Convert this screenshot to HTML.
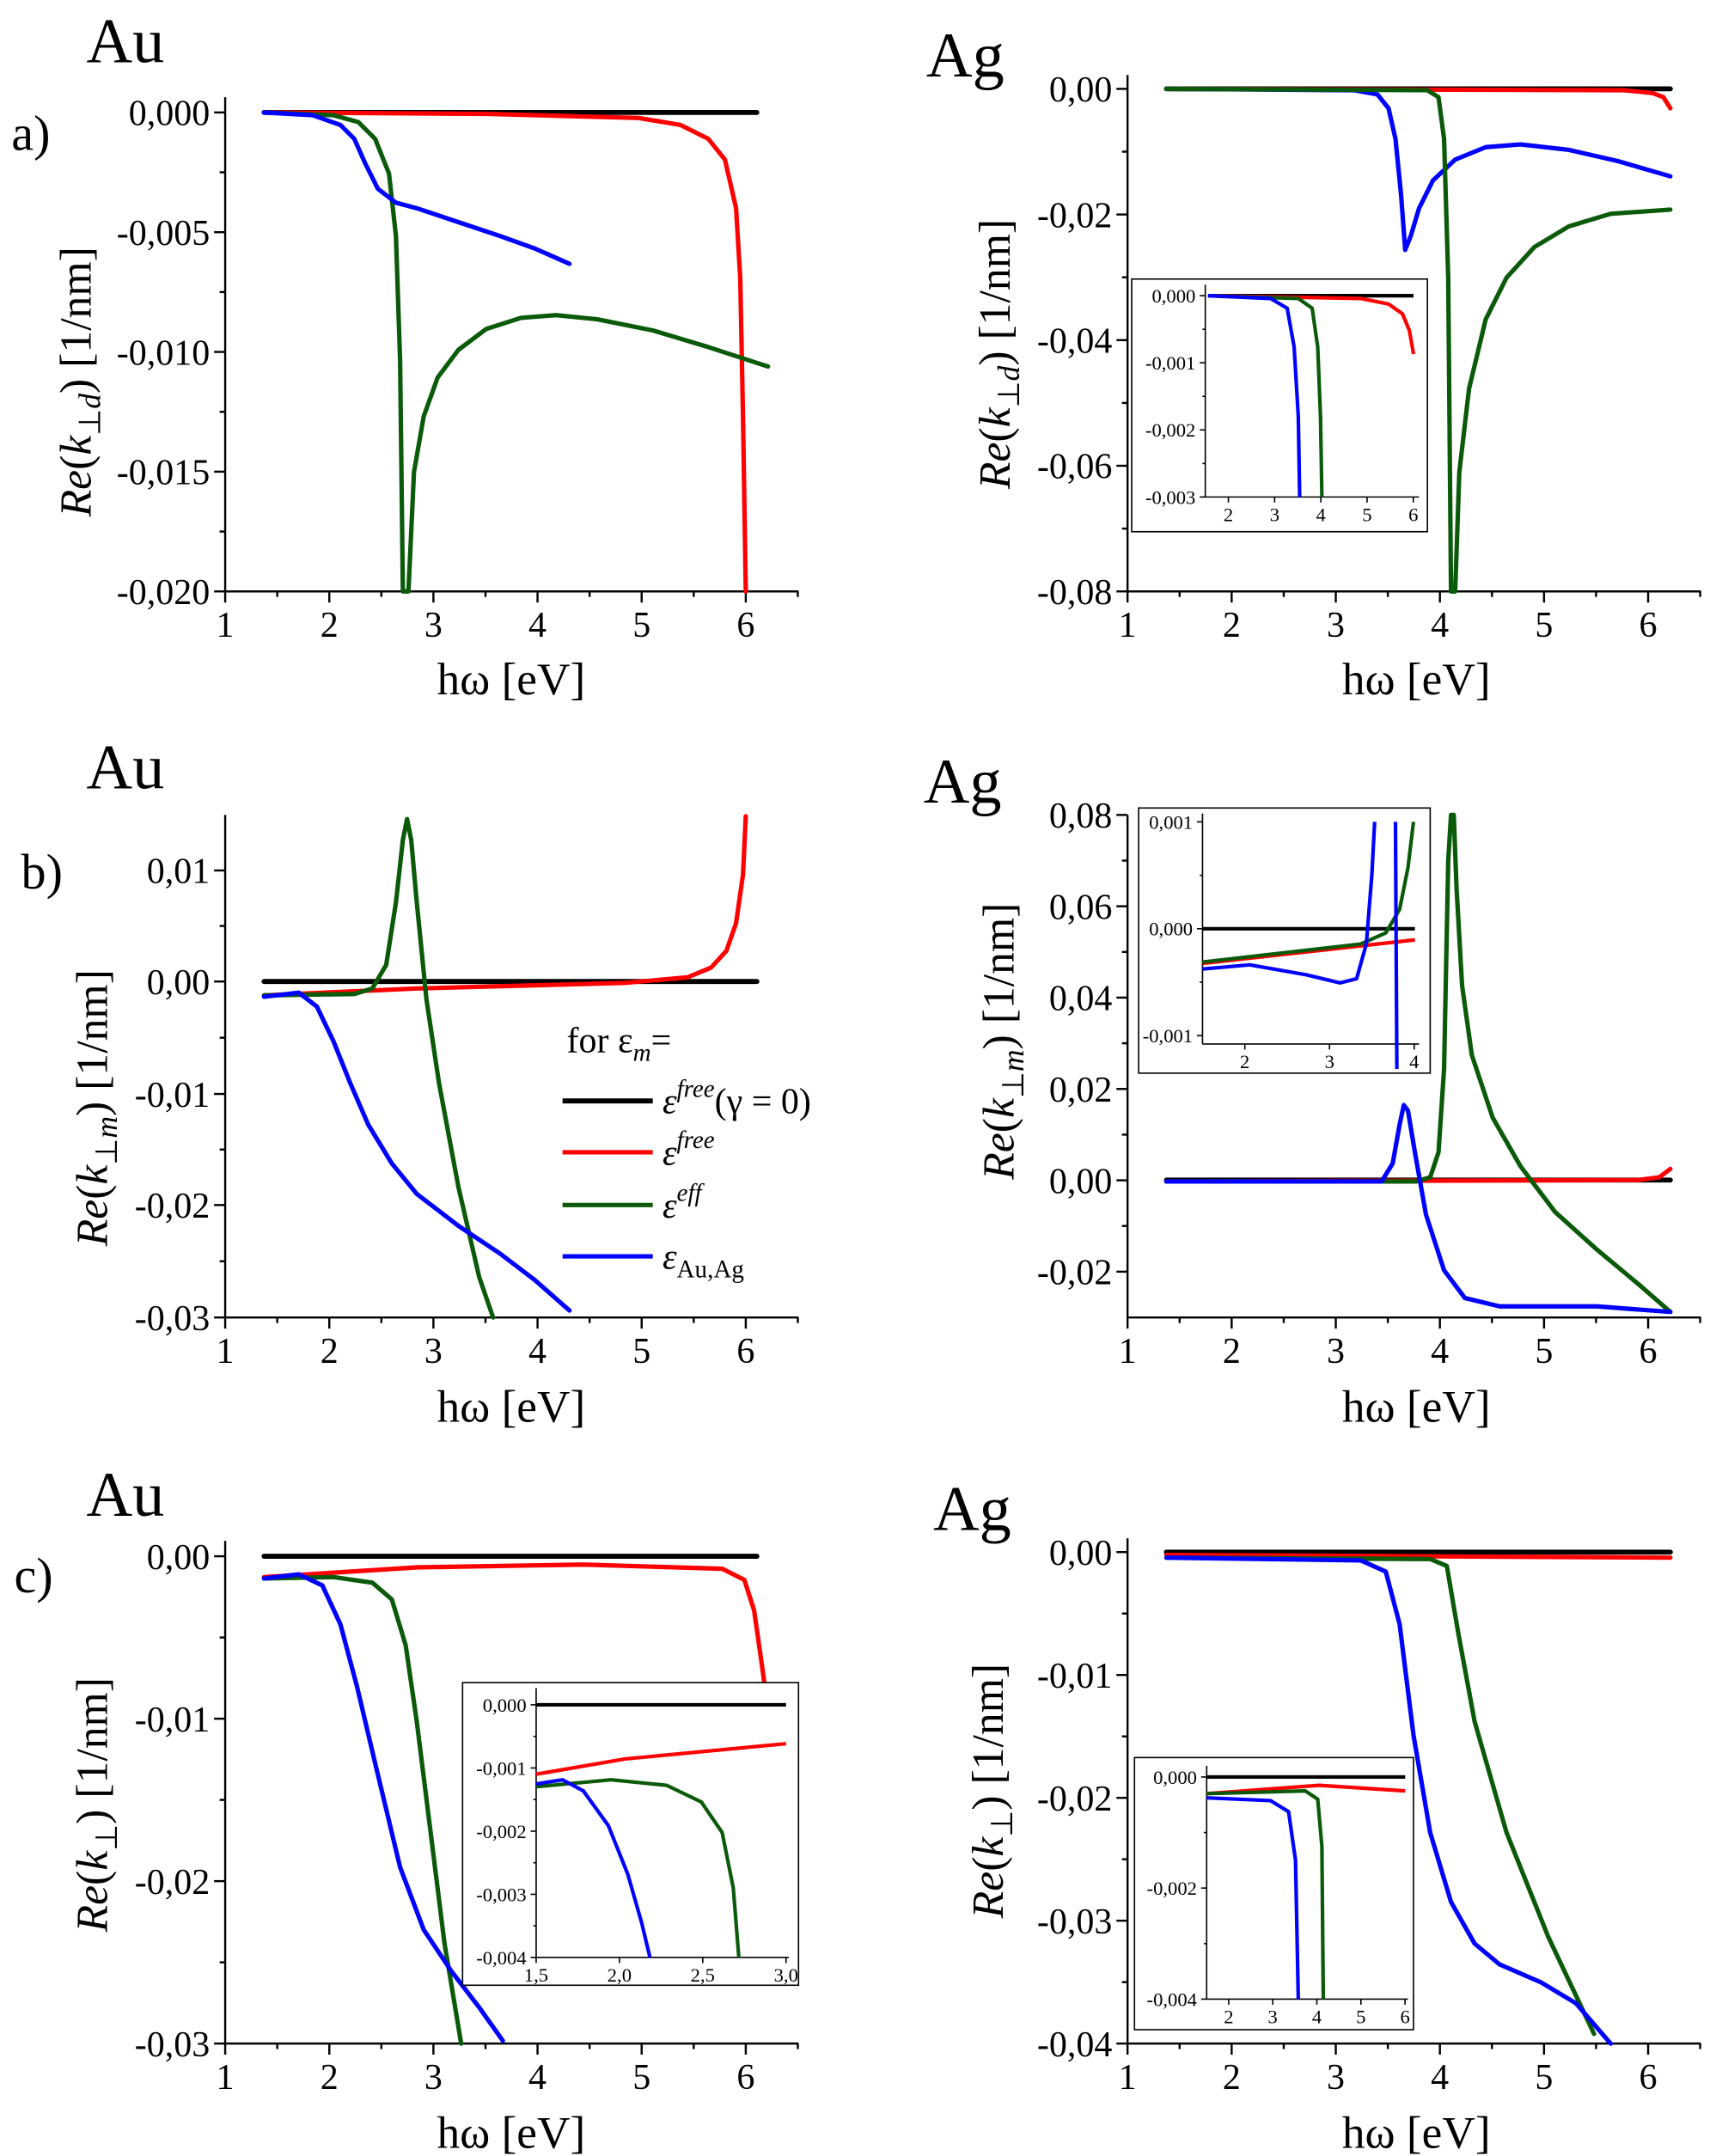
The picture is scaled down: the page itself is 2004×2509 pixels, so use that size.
<!DOCTYPE html>
<html><head><meta charset="utf-8"><style>
html,body{margin:0;padding:0;background:#fff}
svg{display:block}
text{font-family:"Liberation Serif","Times New Roman",Times,serif;fill:#000}
</style></head><body>
<svg id="s" width="2004" height="2509" viewBox="0 0 1240 1553" xmlns="http://www.w3.org/2000/svg" font-family="Liberation Serif, Times New Roman, serif">
<g id="g"></g>
<g fill="none" stroke-linejoin="round" stroke-linecap="round" stroke-width="3.2">
<polyline stroke="#000" stroke-width="3.6" points="190,81 545,81"/>
<polyline stroke="#f00" points="190,81 350,82 460,85 490,90 510,100 522,115 530,150 533,200 535,300 537,426"/>
<polyline stroke="#0a5a0a" points="190,81 240,83 258,88 270,100 280,125 285,170 288,260 290,426 294,426 298,340 305,300 315,272 330,252 350,237 375,229 400,227 430,230 470,238 510,250 553,264"/>
<polyline stroke="#00f" points="190,81 225,83 245,90 255,100 263,118 272,136 285,146 300,150 330,160 360,170 385,179 410,190"/>
<polyline stroke="#000" stroke-width="3.6" points="840,64 1203,64"/>
<polyline stroke="#f00" points="840,64 1170,65 1190,67 1198,70 1203,78"/>
<polyline stroke="#00f" points="840,64 975,65 992,68 1000,78 1005,100 1009,140 1012,180 1016,170 1022,150 1032,130 1048,115 1070,106 1095,104 1130,108 1165,116 1203,127"/>
<polyline stroke="#0a5a0a" points="840,64 1028,65 1036,70 1040,100 1043,200 1045,426 1048,426 1051,340 1058,280 1070,230 1085,200 1105,178 1130,163 1160,154 1203,151"/>
<polyline stroke="#000" stroke-width="3.6" points="190,707 545,707"/>
<polyline stroke="#f00" points="190,717 300,712 450,708 495,704 512,697 523,685 530,665 535,630 537,588"/>
<polyline stroke="#0a5a0a" points="190,717 255,716 268,712 278,695 285,650 290,605 293,590 296,605 300,650 307,720 316,780 330,855 345,920 355,949"/>
<polyline stroke="#00f" points="190,718 215,715 228,725 240,750 252,780 265,810 282,838 300,860 330,883 360,903 385,922 410,944"/>
<polyline stroke="#000" stroke-width="3.6" points="840,850 1203,850"/>
<polyline stroke="#f00" points="840,851 1180,850 1195,848 1203,842"/>
<polyline stroke="#0a5a0a" points="840,851 1020,851 1030,848 1036,830 1040,770 1043,620 1045,587 1047,587 1049,640 1053,710 1060,760 1075,805 1095,840 1120,873 1150,900 1180,925 1203,945"/>
<polyline stroke="#00f" points="840,851 995,851 1003,838 1008,810 1011,796 1014,800 1019,830 1027,875 1040,915 1055,935 1080,941 1150,941 1203,945"/>
<polyline stroke="#000" stroke-width="3.6" points="190,1121 545,1121"/>
<polyline stroke="#f00" points="190,1136 300,1129 420,1127 520,1130 536,1138 543,1160 548,1195 552,1224"/>
<polyline stroke="#0a5a0a" points="190,1137 240,1136 268,1140 282,1152 292,1185 300,1240 310,1320 320,1400 332,1472"/>
<polyline stroke="#00f" points="190,1137 215,1134 232,1142 245,1170 257,1215 270,1270 288,1345 305,1390 325,1420 345,1446 362,1470"/>
<polyline stroke="#000" stroke-width="3.6" points="840,1118 1203,1118"/>
<polyline stroke="#f00" points="840,1120 1203,1122"/>
<polyline stroke="#0a5a0a" points="840,1122 1030,1123 1042,1128 1050,1175 1062,1240 1085,1320 1115,1395 1148,1465"/>
<polyline stroke="#00f" points="840,1122 980,1124 998,1132 1008,1170 1018,1250 1030,1320 1045,1370 1062,1400 1080,1415 1110,1428 1135,1443 1160,1472"/>
</g>
<g fill="#fff" stroke="#000" stroke-width="1">
<rect x="815" y="201" width="213" height="182"/>
<rect x="820" y="582" width="210" height="191"/>
<rect x="333" y="1212" width="242" height="218"/>
<rect x="817" y="1266" width="201" height="196"/>
</g>
<g id="ins"></g>
<g fill="none" stroke-linejoin="round" stroke-width="2.6">
<polyline stroke="#000" points="870,213 1018,213"/>
<polyline stroke="#f00" points="870,213 980,215 1000,219 1010,226 1015,238 1018,255"/>
<polyline stroke="#0a5a0a" points="870,213 935,215 945,222 949,250 951,300 952,358"/>
<polyline stroke="#00f" points="870,213 915,215 927,222 932,250 935,300 936,358"/>
<polyline stroke="#000" points="866,669 1019,669"/>
<polyline stroke="#f00" points="866,694 1019,677"/>
<polyline stroke="#0a5a0a" points="866,693 980,680 998,672 1008,655 1014,625 1018,592"/>
<polyline stroke="#00f" points="866,698 900,695 940,702 965,708 977,705 984,680 988,630 990,592"/>
<polyline stroke="#00f" points="1005,592 1006,770"/>
<polyline stroke="#000" points="386,1228 566,1228"/>
<polyline stroke="#f00" points="386,1278 450,1267 566,1256"/>
<polyline stroke="#0a5a0a" points="386,1287 440,1282 480,1286 505,1298 520,1320 528,1360 532,1410"/>
<polyline stroke="#00f" points="386,1285 405,1282 420,1290 438,1315 452,1350 462,1385 468,1410"/>
<polyline stroke="#000" points="869,1280 1012,1280"/>
<polyline stroke="#f00" points="869,1292 950,1286 1012,1290"/>
<polyline stroke="#0a5a0a" points="869,1292 940,1290 949,1296 952,1330 953,1440"/>
<polyline stroke="#00f" points="869,1295 915,1297 928,1305 933,1340 935,1440"/>
</g>
<g font-size="26">
<text x="408" y="758">for ε<tspan font-style="italic" font-size="18" dy="6">m</tspan><tspan dy="-6">=</tspan></text>
<line x1="405" y1="793" x2="470" y2="793" stroke="#000" stroke-width="3.6"/>
<line x1="405" y1="830" x2="470" y2="830" stroke="#f00" stroke-width="3.2"/>
<line x1="405" y1="868" x2="470" y2="868" stroke="#0a5a0a" stroke-width="3.2"/>
<line x1="405" y1="905" x2="470" y2="905" stroke="#00f" stroke-width="3.2"/>
<text x="477" y="802"><tspan font-style="italic">ε</tspan><tspan font-style="italic" font-size="18" dy="-12">free</tspan><tspan dy="12">(γ = 0)</tspan></text>
<text x="477" y="839"><tspan font-style="italic">ε</tspan><tspan font-style="italic" font-size="18" dy="-12">free</tspan></text>
<text x="477" y="877"><tspan font-style="italic">ε</tspan><tspan font-style="italic" font-size="18" dy="-12">eff</tspan></text>
<text x="477" y="914"><tspan font-style="italic">ε</tspan><tspan font-size="18" dy="6">Au,Ag</tspan></text>
</g>
<g font-size="46">
<text x="62" y="45">Au</text><text x="667" y="55">Ag</text>
<text x="62" y="568">Au</text><text x="665" y="578">Ag</text>
<text x="62" y="1092">Au</text><text x="672" y="1102">Ag</text>
</g>
<g font-size="36">
<text x="8" y="108">a)</text><text x="15" y="640">b)</text><text x="10" y="1147">c)</text>
</g>
</svg>
<script>
var NS="http://www.w3.org/2000/svg",g=document.getElementById("g"),ins=document.getElementById("ins");
function el(p,t,a,txt){var e=document.createElementNS(NS,t);for(var k in a)e.setAttribute(k,a[k]);if(txt!==undefined)e.textContent=txt;p.appendChild(e);return e;}
function axes(o){
 var p=o.p||g,fs=o.fs||26,tl=o.tl||8;
 el(p,"line",{x1:o.l,y1:o.b,x2:o.r,y2:o.b,stroke:"#000","stroke-width":o.sw||1.5});
 el(p,"line",{x1:o.l,y1:o.t,x2:o.l,y2:o.b,stroke:"#000","stroke-width":o.sw||1.5});
 o.xt.forEach(function(v,i){var x=o.x0+(v-o.xv0)*o.xs;
  el(p,"line",{x1:x,y1:o.b,x2:x,y2:o.b+tl,stroke:"#000","stroke-width":o.sw||1.5});
  el(p,"text",{x:x,y:o.b+tl+fs*0.95,"text-anchor":"middle","font-size":fs},o.xl[i]);
  if(o.minor){var xm=x+o.xs*o.minor;if(xm<o.r)el(p,"line",{x1:xm,y1:o.b,x2:xm,y2:o.b+tl/2,stroke:"#000","stroke-width":o.sw||1.5});}
 });
 o.yt.forEach(function(y,i){
  el(p,"line",{x1:o.l-tl,y1:y,x2:o.l,y2:y,stroke:"#000","stroke-width":o.sw||1.5});
  el(p,"text",{x:o.l-tl-3,y:y+fs*0.35,"text-anchor":"end","font-size":fs},o.yl[i]);
  if(i<o.yt.length-1){var ym=(y+o.yt[i+1])/2;el(p,"line",{x1:o.l-tl/2,y1:ym,x2:o.l,y2:ym,stroke:"#000","stroke-width":o.sw||1.5});}
 });
}
var X=[1,2,3,4,5,6],XL=["1","2","3","4","5","6"];
function lin(a,b,n){var r=[];for(var i=0;i<n;i++)r.push(a+(b-a)*i/(n-1));return r;}
axes({l:162,r:575,t:70,b:426,x0:162,xv0:1,xs:75,xt:X,xl:XL,minor:0.5,yt:lin(81,426,5),yl:["0,000","-0,005","-0,010","-0,015","-0,020"]});
axes({l:812,r:1225,t:54,b:426,x0:812,xv0:1,xs:75,xt:X,xl:XL,minor:0.5,yt:lin(64,426,5),yl:["0,00","-0,02","-0,04","-0,06","-0,08"]});
axes({l:162,r:575,t:587,b:949,x0:162,xv0:1,xs:75,xt:X,xl:XL,minor:0.5,yt:[627,707,788,868,949],yl:["0,01","0,00","-0,01","-0,02","-0,03"]});
axes({l:812,r:1225,t:587,b:949,x0:812,xv0:1,xs:75,xt:X,xl:XL,minor:0.5,yt:lin(587,916,6),yl:["0,08","0,06","0,04","0,02","0,00","-0,02"]});
axes({l:162,r:575,t:1110,b:1472,x0:162,xv0:1,xs:75,xt:X,xl:XL,minor:0.5,yt:lin(1121,1472,4),yl:["0,00","-0,01","-0,02","-0,03"]});
axes({l:812,r:1225,t:1108,b:1472,x0:812,xv0:1,xs:75,xt:X,xl:XL,minor:0.5,yt:lin(1118,1472,5),yl:["0,00","-0,01","-0,02","-0,03","-0,04"]});
axes({p:ins,l:868,r:1022,t:205,b:358,x0:868,xv0:1.5,xs:33.3,xt:[2,3,4,5,6],xl:["2","3","4","5","6"],fs:14,tl:4,sw:1,yt:lin(213,358,4),yl:["0,000","-0,001","-0,002","-0,003"]});
axes({p:ins,l:866,r:1022,t:586,b:752,x0:866,xv0:1.5,xs:61,xt:[2,3,4],xl:["2","3","4"],fs:14,tl:4,sw:1,yt:[592,669,746],yl:["0,001","0,000","-0,001"]});
axes({p:ins,l:386,r:568,t:1216,b:1410,x0:386,xv0:1.5,xs:120,xt:[1.5,2,2.5,3],xl:["1,5","2,0","2,5","3,0"],fs:14,tl:4,sw:1,yt:lin(1228,1410,5),yl:["0,000","-0,001","-0,002","-0,003","-0,004"]});
axes({p:ins,l:869,r:1014,t:1272,b:1440,x0:869,xv0:1.5,xs:31.75,xt:[2,3,4,5,6],xl:["2","3","4","5","6"],fs:14,tl:4,sw:1,yt:[1280,1360,1440],yl:["0,000","-0,002","-0,004"]});
[[368,500],[1020,500],[368,1024],[1020,1024],[368,1547],[1020,1547]].forEach(function(c){el(g,"text",{x:c[0],y:c[1],"text-anchor":"middle","font-size":33},"hω [eV]");});
function ylab(x,y,sub){var t=el(g,"text",{x:0,y:0,"text-anchor":"middle","font-size":32,transform:"translate("+x+","+y+") rotate(-90)"});
 t.innerHTML='<tspan font-style="italic">Re</tspan>(<tspan font-style="italic">k</tspan><tspan font-size="22" dy="7">⊥'+sub+'</tspan><tspan dy="-7">) [1/nm]</tspan>';}
ylab(65,275,'<tspan font-style="italic">d</tspan>');ylab(727,255,'<tspan font-style="italic">d</tspan>');
ylab(77,798,'<tspan font-style="italic">m</tspan>');ylab(730,750,'<tspan font-style="italic">m</tspan>');
ylab(77,1300,'');ylab(722,1290,'');
</script>
</body></html>
